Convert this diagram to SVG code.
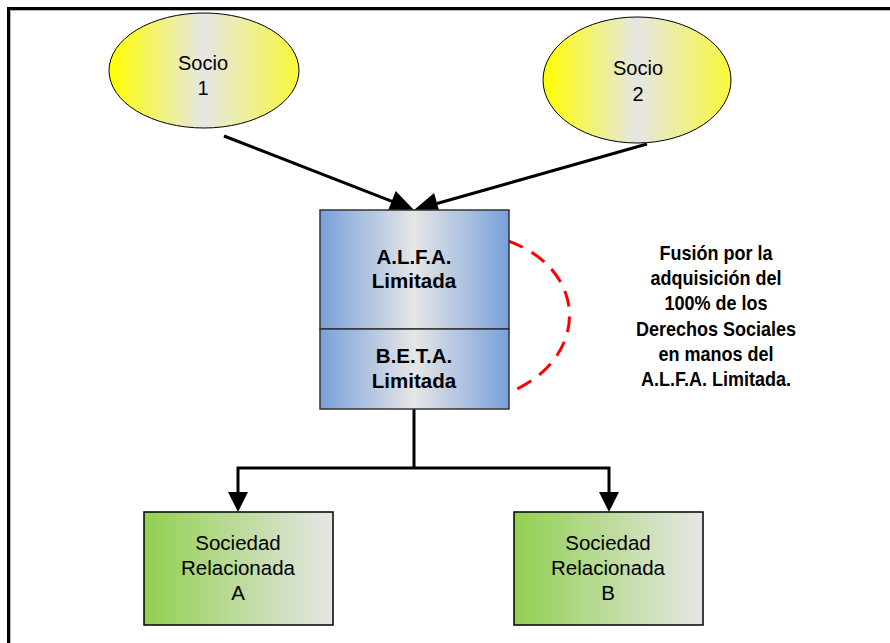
<svg xmlns="http://www.w3.org/2000/svg" width="890" height="643" viewBox="0 0 890 643">
<defs>
<linearGradient id="gY" x1="0" y1="0" x2="1" y2="0">
<stop offset="0" stop-color="#ffff00"/>
<stop offset="0.5" stop-color="#e6e6e6"/>
<stop offset="1" stop-color="#f8f838"/>
</linearGradient>
<linearGradient id="gB" x1="0" y1="0" x2="1" y2="0">
<stop offset="0" stop-color="#78a1db"/>
<stop offset="0.5" stop-color="#e6e6e6"/>
<stop offset="1" stop-color="#78a1db"/>
</linearGradient>
<linearGradient id="gG" x1="0" y1="0" x2="1" y2="0">
<stop offset="0" stop-color="#92d050"/>
<stop offset="1" stop-color="#e6e6e6"/>
</linearGradient>
</defs>
<style>
.frame{fill:none;stroke:#000;stroke-width:3}
.shadow{fill:none;stroke:#b0b0b0;stroke-width:1}
.ell{fill:url(#gY);stroke:#000;stroke-width:1}
.blue{fill:url(#gB);stroke:#333;stroke-width:1.5}
.green{fill:url(#gG);stroke:#000;stroke-width:1.5}
.ln{fill:none;stroke:#000;stroke-width:3}
.ah{fill:#000;stroke:none}
.dash{fill:none;stroke:#ff0000;stroke-width:3;stroke-dasharray:16 10}
.t{font-family:"Liberation Sans",Arial,sans-serif;font-size:20px;fill:#000;text-anchor:middle}
.tg{font-family:"Liberation Sans",Arial,sans-serif;font-size:20.5px;fill:#000;text-anchor:middle}
.tb{font-family:"Liberation Sans",Arial,sans-serif;font-size:20.5px;font-weight:bold;fill:#000;text-anchor:middle}
.note{font-family:"Liberation Sans",Arial,sans-serif;font-size:20px;font-weight:bold;fill:#000;text-anchor:middle}
</style>
<rect x="0" y="0" width="890" height="643" fill="#fff"/>
<path class="shadow" d="M10.5,643 V10.5 H890"/>
<path class="frame" d="M8.5,643 V8.5 H890"/>

<g id="connectors">
<line class="ln" x1="224" y1="136" x2="392" y2="201.3"/>
<polygon class="ah" points="414,210 387.7,211.5 395.7,191.1"/>
<line class="ln" x1="647" y1="144" x2="437" y2="203.5"/>
<polygon class="ah" points="414,210 434.1,192.9 440.1,214.1"/>
<path class="ln" d="M414,409 V468 M238,468 H609 M238,466.5 V494 M609,466.5 V494"/>
<polygon class="ah" points="228,492 248,492 238,512"/>
<polygon class="ah" points="599,492 619,492 609,512"/>
<path class="dash" d="M508,241 C590,270 590,360 508,393"/>
</g>

<g id="socio1">
<ellipse class="ell" cx="204" cy="70.5" rx="95" ry="57.5"/>
<text class="t" x="203" y="70">Socio</text>
<text class="t" x="203" y="95">1</text>
</g>
<g id="socio2">
<ellipse class="ell" cx="637" cy="80" rx="94" ry="63"/>
<text class="t" x="638" y="75">Socio</text>
<text class="t" x="638" y="101">2</text>
</g>

<g id="alfa">
<rect class="blue" x="320" y="210" width="189" height="119"/>
<text class="tb" x="414" y="264">A.L.F.A.</text>
<text class="tb" x="414" y="288">Limitada</text>
</g>
<g id="beta">
<rect class="blue" x="320" y="329" width="189" height="80"/>
<text class="tb" x="414" y="363">B.E.T.A.</text>
<text class="tb" x="414" y="388">Limitada</text>
</g>

<g id="sociedadA">
<rect class="green" x="144" y="512" width="189" height="113"/>
<text class="tg" x="238" y="550">Sociedad</text>
<text class="tg" x="238" y="575">Relacionada</text>
<text class="tg" x="238" y="600">A</text>
</g>
<g id="sociedadB">
<rect class="green" x="514" y="512" width="189" height="113"/>
<text class="tg" x="608" y="550">Sociedad</text>
<text class="tg" x="608" y="575">Relacionada</text>
<text class="tg" x="608" y="600">B</text>
</g>

<g id="nota" transform="translate(716,0) scale(0.9,1)">
<text class="note" x="0" y="260">Fusión por la</text>
<text class="note" x="0" y="285">adquisición del</text>
<text class="note" x="0" y="310.5">100% de los</text>
<text class="note" x="0" y="336">Derechos Sociales</text>
<text class="note" x="0" y="361">en manos del</text>
<text class="note" x="0" y="386.5">A.L.F.A. Limitada.</text>
</g>
</svg>
